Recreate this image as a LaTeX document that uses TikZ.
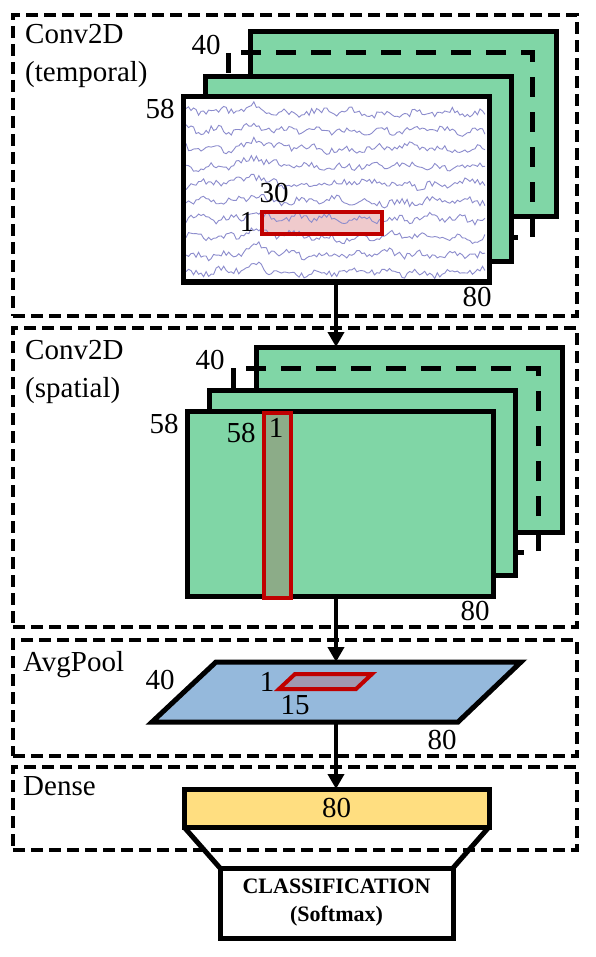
\documentclass[tikz,border=0pt]{standalone}
\usepackage{fontspec}
\setmainfont{Liberation Serif}
\usepackage{xcolor}
\usetikzlibrary{shapes,arrows.meta,positioning}

\definecolor{mapgreen}{RGB}{128,214,166}
\definecolor{poolblue}{RGB}{149,185,220}
\definecolor{denseyellow}{RGB}{255,222,128}
\definecolor{kernred}{RGB}{192,0,0}
\definecolor{kernpink}{RGB}{225,150,155}
\definecolor{kerngreen}{RGB}{140,172,136}
\definecolor{kernpurple}{RGB}{160,152,176}
\definecolor{eegline}{RGB}{140,140,205}

\begin{document}
\begin{tikzpicture}[x=1pt, y=-1pt]
        % Define styles
        \tikzstyle{block} = [rectangle, draw, line width=4pt, dash pattern=on 12pt off 6pt, anchor=north west, inner sep=0pt, outer sep=0pt, minimum width=564pt]
        \tikzstyle{fmap} = [rectangle, draw, line width=5pt, fill=mapgreen, anchor=north west, inner sep=0pt, outer sep=0pt, minimum width=306pt, minimum height=185pt]
        \tikzstyle{chan} = [draw, line width=5pt, dash pattern=on 20pt off 15pt]
        \tikzstyle{kernel} = [draw=kernred, line width=4pt]
        \tikzstyle{arrow} = [line width=4.5pt, -{Triangle[width=16pt,length=15pt]}]
        \tikzstyle{lbl} = [inner sep=0pt, font=\fontsize{29}{34}\selectfont]
        \tikzstyle{title} = [anchor=north west, align=left, inner sep=0pt, font=\fontsize{29}{38}\selectfont]

        \useasboundingbox (0,0) rectangle (595,957);

        % Layer frames
        \node [block, minimum height=301pt] (temporal) at (13,15) {};
        \node [block, minimum height=299pt] (spatial) at (13,328) {};
        \node [block, minimum height=116pt] (avgpool) at (13,640) {};
        \node [block, minimum height=83pt] (denseblk) at (13,767) {};
        \node [title, below right=9pt and 12pt of temporal.north west] {Conv2D\\(temporal)};
        \node [title, below right=12pt and 12pt of spatial.north west] {Conv2D\\(spatial)};
        \node [title, below right=11pt and 10pt of avgpool.north west] {AvgPool};
        \node [title, below right=9pt and 10pt of denseblk.north west] {Dense};

        % Temporal convolution
        \node [fmap] (tback) at (250,32) {};
        \draw [chan] (228,53) rectangle (532,238);
        \node [fmap] (tmid) at (205,77) {};
        \node [fmap, fill=white] (tfront) at (183,97) {};
        \fill [kernpink, fill opacity=0.5] (260,210) rectangle (380,232);
        \begin{scope}
            \clip (186,100) rectangle (485,279);
            \pgfmathsetseed{17}
            \foreach \k in {0,...,9}
                \draw [eegline, line width=0.9pt] plot[domain=186:485, samples=120]
                    (\x, {113+17.7*\k + 3.2*rand + 2.2*sin(11*\x+40*\k) + 1.5*sin(3*\x+70*\k) - 8/(1+((\x-255)/9)^2)});
        \end{scope}
        \node [kernel, anchor=north west, inner sep=0pt, minimum width=120pt, minimum height=22pt] (tkern) at (260,210) {};
        \node [lbl] at (206,45) {40};
        \node [lbl] at (160,109) {58};
        \node [lbl] at (274,193) {30};
        \node [lbl] at (247,222) {1};
        \node [lbl] at (477,297) {80};

        % Spatial convolution
        \node [fmap] (sback) at (256,347) {};
        \draw [chan] (233,368) rectangle (538,552);
        \node [fmap] (smid) at (209,390) {};
        \node [fmap] (sfront) at (187,411) {};
        \node [kernel, fill=kerngreen, anchor=north west, inner sep=0pt, minimum width=27pt, minimum height=185pt] (skern) at (262,411) {};
        \node [lbl] at (210,360) {40};
        \node [lbl] at (164,424) {58};
        \node [lbl] at (241,433) {58};
        \node [lbl] at (276,428) {1};
        \node [lbl] at (475,611) {80};

        % Average pooling
        \coordinate (pooltop) at (336,662);
        \coordinate (poolbot) at (336,722);
        \draw [line width=5pt, fill=poolblue] (216,662) -- (521,662) -- (458,722) -- (152,722) -- cycle;
        \draw [kernel, fill=kernpurple] (295,674) -- (372,674) -- (356,689) -- (279,689) -- cycle;
        \node [lbl] at (160,680) {40};
        \node [lbl] at (267,682) {1};
        \node [lbl] at (295,705) {15};
        \node [lbl] at (442,740) {80};

        % Dense and output
        \node [rectangle, draw, line width=5pt, fill=denseyellow, inner sep=0pt, outer sep=0pt, minimum width=305pt, minimum height=38pt, font=\fontsize{29}{34}\selectfont] (dense) at (336.5,808) {80};
        \node [rectangle, draw, line width=5pt, fill=white, inner sep=0pt, outer sep=0pt, minimum width=233pt, minimum height=70pt, align=center, font=\fontsize{22}{28}\selectfont\bfseries, below=41pt of dense] (cls) {CLASSIFICATION\\(Softmax)};

        % Arrows
        \draw [arrow] (tfront.south) -- (tfront.south |- sback.north);
        \draw [arrow] ([xshift=-4pt]sfront.south) -- ([xshift=-4pt]sfront.south |- pooltop);
        \draw [arrow] (poolbot) -- (poolbot |- dense.north);
        \draw [line width=5pt] (dense.south west) -- (cls.north west);
        \draw [line width=5pt] (dense.south east) -- (cls.north east);
\end{tikzpicture}
\end{document}
